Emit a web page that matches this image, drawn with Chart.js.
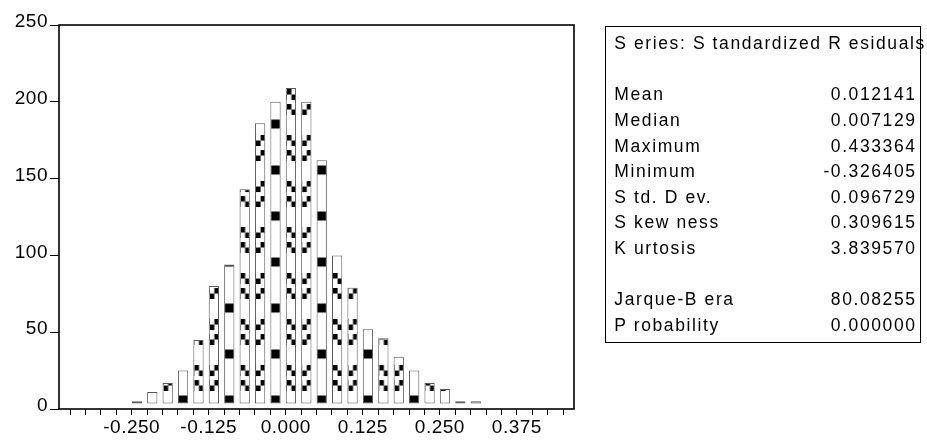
<!DOCTYPE html>
<html>
<head>
<meta charset="utf-8">
<script src="https://cdn.jsdelivr.net/npm/chart.js@4.4.1/dist/chart.umd.min.js"></script>
<style>
  html, body { margin: 0; padding: 0; background: #fff; }
  #wrap { position: relative; width: 927px; height: 441px; overflow: hidden; }
  #c { position: absolute; left: 0; top: 0; }
  #stats {
    position: absolute; left: 605px; top: 26px; width: 316px; height: 317px;
    box-sizing: border-box; border: 1px solid #000; background: #fff;
    font-family: 'Liberation Sans', Arial, sans-serif; font-size: 17.5px;
    letter-spacing: 1.6px; color: #000;
    line-height: 25.6px; padding: 4.2px 3.4px 0 8.3px;
  }
  #stats .row { display: flex; justify-content: space-between; white-space: nowrap; height: 25.6px; }
  #stats .title { white-space: nowrap; height: 25.6px; overflow: visible; }
  #stats .blank { height: 25.6px; }
</style>
</head>
<body>
<div id="wrap">
  <canvas id="c" width="927" height="441"></canvas>
  <div id="stats"></div>
</div>
<script>
// ---- data ----
const binStarts = [-0.250, -0.225, -0.200, -0.175, -0.150, -0.125, -0.100, -0.075, -0.050, -0.025,
                    0.000,  0.025,  0.050,  0.075,  0.100,  0.125,  0.150,  0.175,  0.200,  0.225,
                    0.250,  0.275,  0.300];
const counts = [5, 11, 17, 25, 45, 80, 94, 143, 186, 200,
                209, 200, 162, 100, 79, 52, 46, 34, 25, 17,
                13, 5, 5];
const binWidth = 0.025;
const xMajorLabels = ['-0.250', '-0.125', '0.000', '0.125', '0.250', '0.375'];
const xMinorStart = -0.350, xMinorEnd = 0.450;
const yTicks = [0, 50, 100, 150, 200, 250];

const statsTitle = 'S eries: S tandardized R esiduals';
const statLabels = ['Mean', 'Median', 'Maximum', 'Minimum', 'S td. D ev.', 'S kew ness', 'K urtosis'];
const statValues = ['0.012141', '0.007129', '0.433364', '-0.326405', '0.096729', '0.309615', '3.839570'];
const testLabels = ['Jarque-B era', 'P robability'];
const testValues = ['80.08255', '0.000000'];

// ---- stats box ----
(function buildStats() {
  const box = document.getElementById('stats');
  const add = (cls, html) => { const d = document.createElement('div'); d.className = cls; d.innerHTML = html; box.appendChild(d); };
  add('title', statsTitle);
  add('blank', '');
  statLabels.forEach((l, i) => add('row', '<span>' + l + '</span><span>' + statValues[i] + '</span>'));
  add('blank', '');
  testLabels.forEach((l, i) => add('row', '<span>' + l + '</span><span>' + testValues[i] + '</span>'));
})();

// ---- chart ----
const barFrac = 2 / 3;
const points = binStarts.map((s, i) => ({ x: s + binWidth * barFrac / 2, y: counts[i] }));

const canvas = document.getElementById('c');
const ctx = canvas.getContext('2d');

// moire-like fill textures (three phases), tile 12 x 46
const TW = 12, TH = 46;
function makeTile(kind) {
  const c = document.createElement('canvas');
  c.width = TW; c.height = TH;
  const g = c.getContext('2d');
  g.fillStyle = '#fff'; g.fillRect(0, 0, TW, TH);
  g.fillStyle = '#000';
  const L = [0, 4.6], R = [4.6, TW];
  const blk = (side, y0, y1) => g.fillRect(side[0], y0, side[1] - side[0], y1 - y0);
  if (kind === 0) {
    blk([0, TW], 18.5, 27.5);
  } else {
    const a = kind === 2 ? R : L, b = kind === 2 ? L : R;
    blk(a, 3, 8.5);  blk(b, 8.5, 14);
    blk(a, 34, 39.5); blk(b, 39.5, 45);
  }
  return c;
}
const tiles = [makeTile(0), makeTile(1), makeTile(2)];
const patterns = binStarts.map((s, i) => ctx.createPattern(tiles[(((i - 9) % 3) + 3) % 3], 'repeat'));

const LS = '0.5px';
const FONT = "'Liberation Sans', Arial, sans-serif";

const helperPlugin = {
  id: 'helper',
  beforeUpdate(chart) { chart.ctx.letterSpacing = LS; },
  beforeLayout(chart) { chart.ctx.letterSpacing = LS; },
  beforeDraw(chart) { chart.ctx.letterSpacing = LS; },
  beforeDatasetsDraw(chart) {
    const meta = chart.getDatasetMeta(0), a = chart.chartArea;
    const cy = a.bottom - 9;
    meta.data.forEach((bar, i) => {
      const left = bar.x - bar.width / 2 + 1;
      patterns[i].setTransform(new DOMMatrix([1, 0, 0, 1, left, cy - 23]));
    });
  },
  afterDraw(chart) {
    const a = chart.chartArea, c = chart.ctx;
    c.save();
    c.strokeStyle = '#000';
    c.lineWidth = 1.6;
    c.strokeRect(a.left, a.top, a.right - a.left, a.bottom - a.top);
    c.restore();
  }
};

new Chart(canvas, {
  type: 'bar',
  data: {
    datasets: [{
      data: points,
      backgroundColor: (c) => patterns[c.dataIndex] || '#fff',
      borderColor: '#5a5a5a',
      borderWidth: 1,
      borderSkipped: false,
      base: 3.6,
      barPercentage: barFrac,
      categoryPercentage: 1
    }]
  },
  options: {
    responsive: false,
    animation: false,
    events: [],
    layout: { padding: { left: 0, top: 25, right: 353, bottom: 0 } },
    plugins: { legend: { display: false }, tooltip: { enabled: false }, title: { display: false } },
    scales: {
      x: {
        type: 'linear',
        min: -0.368, max: 0.4677,
        offset: false,
        border: { display: false },
        grid: { display: true, drawOnChartArea: false, drawTicks: true, tickLength: 6, color: '#000', lineWidth: 1, offset: false },
        ticks: {
          autoSkip: false, maxRotation: 0, minRotation: 0, padding: 1,
          color: '#000', font: { family: FONT, size: 19 },
          callback: (v) => {
            let s = (Math.round(v * 1000) / 1000).toFixed(3);
            if (s === '-0.000') s = '0.000';
            return xMajorLabels.includes(s) ? s : '';
          }
        },
        afterBuildTicks: (s) => {
          const t = [];
          const n = Math.round((xMinorEnd - xMinorStart) / binWidth);
          for (let i = 0; i <= n; i++) t.push({ value: Math.round((xMinorStart + i * binWidth) * 1000) / 1000 });
          s.ticks = t;
        },
        afterFit: (s) => { s.height = 32; }
      },
      y: {
        type: 'linear',
        min: 0, max: 250,
        border: { display: false },
        grid: { display: true, drawOnChartArea: false, drawTicks: true, tickLength: 9, color: '#000', lineWidth: 1 },
        ticks: {
          padding: 2, color: '#000', labelOffset: -3,
          font: { family: FONT, size: 19 }
        },
        afterBuildTicks: (s) => { s.ticks = yTicks.map(v => ({ value: v })); },
        afterFit: (s) => { s.width = 59; }
      }
    }
  },
  plugins: [helperPlugin]
});
</script>
</body>
</html>
